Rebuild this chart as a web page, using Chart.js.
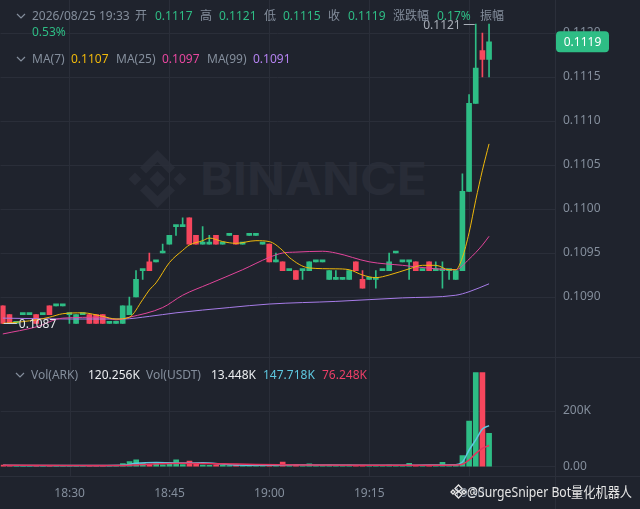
<!DOCTYPE html>
<html>
<head>
<meta charset="utf-8">
<script src="https://cdn.jsdelivr.net/npm/chart.js@4.4.1/dist/chart.umd.min.js"></script>
<style>
  body { margin:0; background:#1f232d; width:640px; height:509px; overflow:hidden; position:relative;
         font-family:"Noto Sans","Noto Sans CJK SC",sans-serif; }
  canvas { position:absolute; left:0; }
  #price { top:0; }
  #vol { top:357px; }
  .t { position:absolute; font-size:12px; line-height:16px; white-space:nowrap; color:#848e9c; }
  .g { color:#2ebd85; }
  .w { color:#eaecef; }
  .sep { position:absolute; left:0; width:640px; height:1px; background:#2b2f3a; }
  svg { position:absolute; left:0; top:0; }
</style>
</head>
<body>
<svg width="640" height="357" style="z-index:0">
  <g fill="#282c37">
    <polygon points="157.5,150 175,167.5 169,173.5 157.5,162 146,173.5 140,167.5"/>
    <polygon points="157.5,208 175,190.5 169,184.5 157.5,196 146,184.5 140,190.5"/>
    <polygon points="157.5,171 165.5,179 157.5,187 149.5,179"/>
    <polygon points="135,172.5 141.5,179 135,185.5 128.5,179"/>
    <polygon points="180,172.5 186.5,179 180,185.5 173.5,179"/>
    <text x="200" y="195" textLength="227" lengthAdjust="spacingAndGlyphs" font-size="45" font-weight="700"
          font-family="Inter, Roboto, sans-serif">BINANCE</text>
  </g>
</svg>
<canvas id="price" width="640" height="357"></canvas>
<canvas id="vol" width="640" height="152"></canvas>
<div class="sep" style="top:357px"></div>
<div class="sep" style="top:476px"></div>

<svg width="640" height="509" style="z-index:2;pointer-events:none">
  <g fill="none" stroke="#848e9c" stroke-width="1.2">
    <polyline points="17,14 21,18 25,14"/>
    <polyline points="17,57 21,61 25,57"/>
    <polyline points="16,373 20,377 24,373"/>
  </g>
  <g fill="none" stroke="#e6e6e6" stroke-width="1.3">
    <polygon points="458.5,485 462,488.5 458.5,492 455,488.5"/>
    <polygon points="458.5,491 462,494.5 458.5,498 455,494.5"/>
    <polygon points="453,490 455,492 453,494 451,492"/>
    <polygon points="464,490 466,492 464,494 462,492"/>
  </g>
  <text x="467" y="497" textLength="165" lengthAdjust="spacingAndGlyphs" font-size="14"
        font-family="Noto Sans, Noto Sans CJK SC, sans-serif" fill="#e6e6e6">@SurgeSniper Bot量化机器人</text>
</svg>

<div style="position:absolute;left:0;top:0;z-index:3">
  <span class="t" style="left:32px;top:8px">2026/08/25 19:33</span>
  <span class="t" style="left:135px;top:8px">开</span>
  <span class="t g" style="left:155px;top:8px">0.1117</span>
  <span class="t" style="left:200px;top:8px">高</span>
  <span class="t g" style="left:219px;top:8px">0.1121</span>
  <span class="t" style="left:264px;top:8px">低</span>
  <span class="t g" style="left:283px;top:8px">0.1115</span>
  <span class="t" style="left:328px;top:8px">收</span>
  <span class="t g" style="left:348px;top:8px">0.1119</span>
  <span class="t" style="left:393px;top:8px">涨跌幅</span>
  <span class="t g" style="left:437px;top:8px">0.17%</span>
  <span class="t" style="left:480px;top:8px">振幅</span>
  <span class="t g" style="left:32px;top:24px">0.53%</span>

  <span class="t" style="left:32px;top:51px">MA(7)</span>
  <span class="t" style="left:71px;top:51px;color:#f0b90b">0.1107</span>
  <span class="t" style="left:116px;top:51px">MA(25)</span>
  <span class="t" style="left:162px;top:51px;color:#e8479f">0.1097</span>
  <span class="t" style="left:207px;top:51px">MA(99)</span>
  <span class="t" style="left:253px;top:51px;color:#b482f0">0.1091</span>

  <span class="t" style="left:31px;top:367px">Vol(ARK)</span>
  <span class="t w" style="left:88px;top:367px">120.256K</span>
  <span class="t" style="left:146px;top:367px">Vol(USDT)</span>
  <span class="t w" style="left:211px;top:367px">13.448K</span>
  <span class="t" style="left:263px;top:367px;color:#5ec8e0">147.718K</span>
  <span class="t" style="left:322px;top:367px;color:#ec3f67">76.248K</span>
</div>

<script>
// 1-minute candles starting at 18:20
const startMinute = 18 * 60 + 20;

const opens = [
  0.1089, 0.1088, 0.1087, 0.1088, 0.1088, 0.1088, 0.1088, 0.1089, 0.1089, 0.1089,
  0.1088, 0.1087, 0.1088, 0.1088, 0.1088, 0.1088, 0.1087, 0.1087, 0.1087, 0.1088,
  0.1090, 0.1093, 0.1094, 0.1094, 0.1095, 0.1096, 0.1098, 0.1098, 0.1099, 0.1097,
  0.1096, 0.1096, 0.1097, 0.1096, 0.1097, 0.1097, 0.1096, 0.1097, 0.1097, 0.1096,
  0.1096, 0.1094, 0.1094, 0.1093, 0.1093, 0.1093, 0.1093, 0.1094, 0.1094, 0.1092,
  0.1092, 0.1092, 0.1092, 0.1094, 0.1092, 0.1092, 0.1092, 0.1093, 0.1093, 0.1095,
  0.1094, 0.1094, 0.1094, 0.1093, 0.1094, 0.1093, 0.1093, 0.1093, 0.1092, 0.1093,
  0.1102, 0.1112, 0.1118, 0.1117
];
const highs = [
  0.1089, 0.1088, 0.1087, 0.1088, 0.1088, 0.1088, 0.1088, 0.1089, 0.1089, 0.1089,
  0.1088, 0.1088, 0.1088, 0.1088, 0.1088, 0.1088, 0.1087, 0.1087, 0.1089, 0.1090,
  0.1093, 0.1093, 0.1095, 0.1094, 0.1096, 0.1097, 0.1098, 0.1099, 0.1099, 0.1097,
  0.1098, 0.1097, 0.1097, 0.1096, 0.1097, 0.1097, 0.1096, 0.1097, 0.1097, 0.1096,
  0.1096, 0.1095, 0.1094, 0.1093, 0.1093, 0.1093, 0.1094, 0.1094, 0.1094, 0.1093,
  0.1093, 0.1092, 0.1093, 0.1094, 0.1093, 0.1092, 0.1093, 0.1093, 0.1095, 0.1095,
  0.1094, 0.1094, 0.1094, 0.1093, 0.1094, 0.1094, 0.1094, 0.1093, 0.1093, 0.1104,
  0.1113, 0.1121, 0.1120, 0.1121
];
const lows = [
  0.1087, 0.1087, 0.1087, 0.1088, 0.1088, 0.1087, 0.1088, 0.1088, 0.1089, 0.1089,
  0.1087, 0.1087, 0.1088, 0.1087, 0.1087, 0.1087, 0.1087, 0.1087, 0.1087, 0.1088,
  0.1090, 0.1092, 0.1093, 0.1094, 0.1095, 0.1096, 0.1097, 0.1098, 0.1096, 0.1096,
  0.1096, 0.1096, 0.1096, 0.1096, 0.1097, 0.1096, 0.1096, 0.1097, 0.1097, 0.1096,
  0.1094, 0.1094, 0.1093, 0.1093, 0.1092, 0.1092, 0.1093, 0.1094, 0.1094, 0.1092,
  0.1092, 0.1092, 0.1092, 0.1093, 0.1091, 0.1092, 0.1091, 0.1093, 0.1093, 0.1095,
  0.1094, 0.1092, 0.1093, 0.1093, 0.1093, 0.1093, 0.1091, 0.1092, 0.1092, 0.1093,
  0.1102, 0.1112, 0.1115, 0.1115
];
const closes = [
  0.1087, 0.1087, 0.1087, 0.1088, 0.1088, 0.1087, 0.1088, 0.1088, 0.1089, 0.1089,
  0.1088, 0.1088, 0.1088, 0.1087, 0.1087, 0.1087, 0.1087, 0.1087, 0.1089, 0.1089,
  0.1092, 0.1093, 0.1093, 0.1094, 0.1095, 0.1097, 0.1098, 0.1098, 0.1096, 0.1096,
  0.1096, 0.1096, 0.1096, 0.1096, 0.1097, 0.1096, 0.1096, 0.1097, 0.1097, 0.1096,
  0.1094, 0.1094, 0.1093, 0.1093, 0.1092, 0.1093, 0.1094, 0.1094, 0.1094, 0.1093,
  0.1092, 0.1092, 0.1093, 0.1093, 0.1091, 0.1092, 0.1092, 0.1093, 0.1094, 0.1095,
  0.1094, 0.1094, 0.1093, 0.1093, 0.1093, 0.1093, 0.1093, 0.1093, 0.1093, 0.1102,
  0.1112, 0.1116, 0.1117, 0.1119
];
const volumes = [
  6000, 5000, 3000, 4000, 4000, 3000, 4000, 5000, 3000, 4000,
  3000, 4000, 3000, 4000, 5000, 4000, 3000, 3000, 11000, 18000,
  25000, 12000, 8000, 13000, 7000, 10000, 25000, 8000, 20000, 9000,
  6000, 5000, 7000, 5000, 4000, 6000, 4000, 5000, 4000, 4000,
  6000, 4000, 17000, 4000, 6000, 3000, 10000, 4000, 5000, 6000,
  4000, 3000, 6000, 4000, 5000, 3000, 4000, 3000, 6000, 4000,
  3000, 12000, 4000, 3000, 4000, 5000, 16000, 4000, 5000, 40000,
  164000, 350000, 357000, 120256
];

// moving averages (candle index -> value)
const ma7Idx = [0, 3, 5, 7, 9, 12, 15, 17, 19, 21, 22, 23, 25, 27, 28, 30, 31, 33, 35, 38, 40, 42, 43, 46, 50, 52, 54, 56, 58, 61, 63, 65, 67, 68, 69, 70, 71, 72, 73];
const ma7Val = [0.10870, 0.10872, 0.10874, 0.10877, 0.10881, 0.10882, 0.10878, 0.10875, 0.10877, 0.10897,
  0.10908, 0.10916, 0.10939, 0.10953, 0.10959, 0.10964, 0.10967, 0.10963, 0.10961, 0.10964,
  0.10963, 0.10953, 0.10945, 0.10933, 0.10932, 0.10931, 0.10925, 0.10922, 0.10925, 0.10932,
  0.10936, 0.10936, 0.10931, 0.10931, 0.10945, 0.10973, 0.11010, 0.11044, 0.11074];
const ma25Idx = [0, 5, 9, 15, 17, 19, 24, 27, 31, 36, 40, 42, 44, 48, 50, 55, 60, 65, 68, 70, 72, 73];
const ma25Val = [0.10858, 0.10866, 0.10876, 0.10877, 0.10874, 0.10877, 0.10888, 0.10902, 0.10915, 0.10931,
  0.10945, 0.10950, 0.10951, 0.10952, 0.10950, 0.10940, 0.10936, 0.10932, 0.10931, 0.10943,
  0.10959, 0.10969];
const ma99Idx = [0, 10, 18, 22, 26, 34, 40, 50, 60, 68, 70, 73];
const ma99Val = [0.10876, 0.10875, 0.10875, 0.10878, 0.10882, 0.10888, 0.10892, 0.10895, 0.10899, 0.10902,
  0.10906, 0.10915];

const volMa5Idx = [0, 10, 18, 20, 23, 27, 30, 34, 40, 44, 48, 55, 60, 64, 68, 69, 70, 71, 72, 73];
const volMa5Val = [5000, 4000, 5000, 12000, 15000, 13000, 14000, 7000, 5000, 7000,
  6000, 5000, 5000, 6000, 7000, 17000, 60000, 96000, 135000, 147718];
const volMa10Idx = [0, 10, 18, 22, 27, 32, 38, 45, 55, 65, 68, 69, 70, 71, 72, 73];
const volMa10Val = [5000, 4500, 4500, 9000, 12000, 11000, 8000, 6000, 5000, 5000,
  6000, 9000, 24000, 48000, 66000, 76248];

const priceTicks = [0.1090, 0.1095, 0.1100, 0.1105, 0.1110, 0.1115, 0.1120];
const volTicks = [0, 200000];
const timeTicks = [10, 25, 40, 55, 70];

const UP = '#2ebd85';
const DOWN = '#f6465d';
const GRID = '#2a2e39';
const TEXT = '#848e9c';
const FONT = { family: '"Noto Sans", "Noto Sans CJK SC", sans-serif', size: 12 };

// pixel calibration of the two panels (canvas coordinates)
const priceRef = 0.1090, priceRefY = 297, pxPerPrice = 88000;
const volZeroY = 109.7, volPerPx = 3591;

const candleColors = closes.map((c, i) => c >= opens[i] ? UP : DOWN);
const pts = (idx, val) => idx.map((x, k) => ({ x: x, y: val[k] }));
const timeLabel = v => {
  const m = startMinute + v;
  return String(Math.floor(m / 60)).padStart(2, '0') + ':' + String(m % 60).padStart(2, '0');
};

const xScale = (showLabels) => ({
  type: 'linear',
  min: -0.345,
  max: 82.9,
  offset: false,
  afterBuildTicks: s => { s.ticks = timeTicks.map(v => ({ value: v })); },
  afterFit: s => { s.height = showLabels ? 33 : 0; },
  grid: { display: false, drawTicks: false, offset: false },
  border: { display: false },
  ticks: { display: showLabels, color: TEXT, font: FONT, padding: 10, callback: timeLabel, maxRotation: 0 }
});

const yRight = (min, max, ticks, fmt) => ({
  type: 'linear',
  position: 'right',
  min: min,
  max: max,
  beginAtZero: false,
  afterBuildTicks: s => { s.ticks = ticks.map(v => ({ value: v })); },
  afterFit: s => { s.width = 85; },
  grid: { color: GRID, drawTicks: false },
  border: { display: false },
  ticks: { color: TEXT, font: FONT, padding: 8, callback: fmt }
});

// vertical grid lines over the whole panel height and the price axis border
const frame = {
  id: 'frame',
  beforeDatasetsDraw(chart, args, opts) {
    const ctx = chart.ctx, xs = chart.scales.x, a = chart.chartArea;
    const bottom = opts.gridToArea ? a.bottom : chart.height;
    ctx.save();
    ctx.lineWidth = 1;
    ctx.strokeStyle = GRID;
    timeTicks.forEach(t => {
      const x = Math.round(xs.getPixelForValue(t)) + 0.5;
      ctx.beginPath(); ctx.moveTo(x, 0); ctx.lineTo(x, bottom); ctx.stroke();
    });
    ctx.strokeStyle = '#2b2f3a';
    const bx = Math.round(a.right) + 0.5;
    ctx.beginPath(); ctx.moveTo(bx, 0); ctx.lineTo(bx, chart.height); ctx.stroke();
    ctx.restore();
  }
};

// high/low markers and the last price tag
const markers = {
  id: 'markers',
  afterDraw(chart) {
    const ctx = chart.ctx;
    const xs = chart.scales.x, ys = chart.scales.y;
    const hi = Math.max(...highs), lo = Math.min(...lows);
    const hiIdx = highs.indexOf(hi), loIdx = lows.indexOf(lo);
    ctx.save();
    ctx.font = '12px "Noto Sans", sans-serif';
    ctx.strokeStyle = '#a9afb8';
    ctx.fillStyle = '#a9afb8';
    ctx.lineWidth = 1;
    ctx.textBaseline = 'middle';
    let x = xs.getPixelForValue(hiIdx), y = Math.round(ys.getPixelForValue(hi)) + 0.5;
    ctx.beginPath(); ctx.moveTo(x - 1, y); ctx.lineTo(x - 12, y); ctx.stroke();
    ctx.textAlign = 'right';
    ctx.fillText(hi.toFixed(4), x - 15, y + 1);
    x = xs.getPixelForValue(loIdx); y = Math.round(ys.getPixelForValue(lo)) + 0.5;
    ctx.strokeStyle = '#d0d4da'; ctx.fillStyle = '#e6e8ea';
    ctx.beginPath(); ctx.moveTo(x + 1, y); ctx.lineTo(x + 14, y); ctx.stroke();
    ctx.textAlign = 'left';
    ctx.fillText(lo.toFixed(4), x + 16, y + 1);

    const last = closes[closes.length - 1];
    const ty = ys.getPixelForValue(last);
    const left = chart.chartArea.right + 1, w = 53, h = 21;
    ctx.fillStyle = last >= opens[opens.length - 1] ? UP : DOWN;
    ctx.beginPath();
    ctx.roundRect(left, ty - h / 2, w, h, 4);
    ctx.fill();
    ctx.fillStyle = '#ffffff';
    ctx.textAlign = 'center';
    ctx.fillText(last.toFixed(4), left + w / 2, ty + 1);
    ctx.restore();
  }
};

const baseOptions = (xs, ys, gridToArea) => ({
  responsive: false,
  animation: false,
  layout: { padding: 0 },
  plugins: { legend: { display: false }, tooltip: { enabled: false }, frame: { gridToArea: gridToArea } },
  scales: { x: xs, y: ys }
});

const priceChart = new Chart(document.getElementById('price'), {
  type: 'bar',
  data: {
    datasets: [
      { type: 'line', data: pts(ma7Idx, ma7Val), borderColor: '#f0b90b', borderWidth: 1, pointRadius: 0, cubicInterpolationMode: 'monotone', order: 0 },
      { type: 'line', data: pts(ma25Idx, ma25Val), borderColor: '#e3459b', borderWidth: 1, pointRadius: 0, cubicInterpolationMode: 'monotone', order: 0 },
      { type: 'line', data: pts(ma99Idx, ma99Val), borderColor: '#a77ce8', borderWidth: 1, pointRadius: 0, cubicInterpolationMode: 'monotone', order: 0 },
      { data: opens.map((o, i) => ({ x: i, y: [o, closes[i]] })), backgroundColor: candleColors, barThickness: 5, minBarLength: 2, grouped: false, order: 1 },
      { data: lows.map((l, i) => ({ x: i, y: [l, highs[i]] })), backgroundColor: candleColors, barThickness: 1, grouped: false, order: 2 }
    ]
  },
  options: baseOptions(xScale(false), yRight(0.1083, 0.1124, priceTicks, v => v.toFixed(4)), false),
  plugins: [frame, markers]
});

const volChart = new Chart(document.getElementById('vol'), {
  type: 'bar',
  data: {
    datasets: [
      { type: 'line', data: pts(volMa10Idx, volMa10Val), borderColor: '#e6335f', borderWidth: 1.5, pointRadius: 0, cubicInterpolationMode: 'monotone', order: 0 },
      { type: 'line', data: pts(volMa5Idx, volMa5Val), borderColor: '#5ec8e0', borderWidth: 1.5, pointRadius: 0, cubicInterpolationMode: 'monotone', order: 0 },
      { data: volumes.map((v, i) => ({ x: i, y: v })), backgroundColor: candleColors, barThickness: 5, grouped: false, order: 1 }
    ]
  },
  options: baseOptions(xScale(true), yRight(-33400, 394000, volTicks, v => v === 0 ? '0.00' : (v / 1000) + 'K'), true),
  plugins: [frame]
});

// match the value range to the real chart area so the scales land where the picture has them
const pa = priceChart.chartArea;
priceChart.options.scales.y.min = priceRef - (pa.bottom - priceRefY) / pxPerPrice;
priceChart.options.scales.y.max = priceRef + (priceRefY - pa.top) / pxPerPrice;
priceChart.update('none');

const va = volChart.chartArea;
volChart.options.scales.y.min = -(va.bottom - volZeroY) * volPerPx;
volChart.options.scales.y.max = (volZeroY - va.top) * volPerPx;
volChart.update('none');
</script>
</body>
</html>
